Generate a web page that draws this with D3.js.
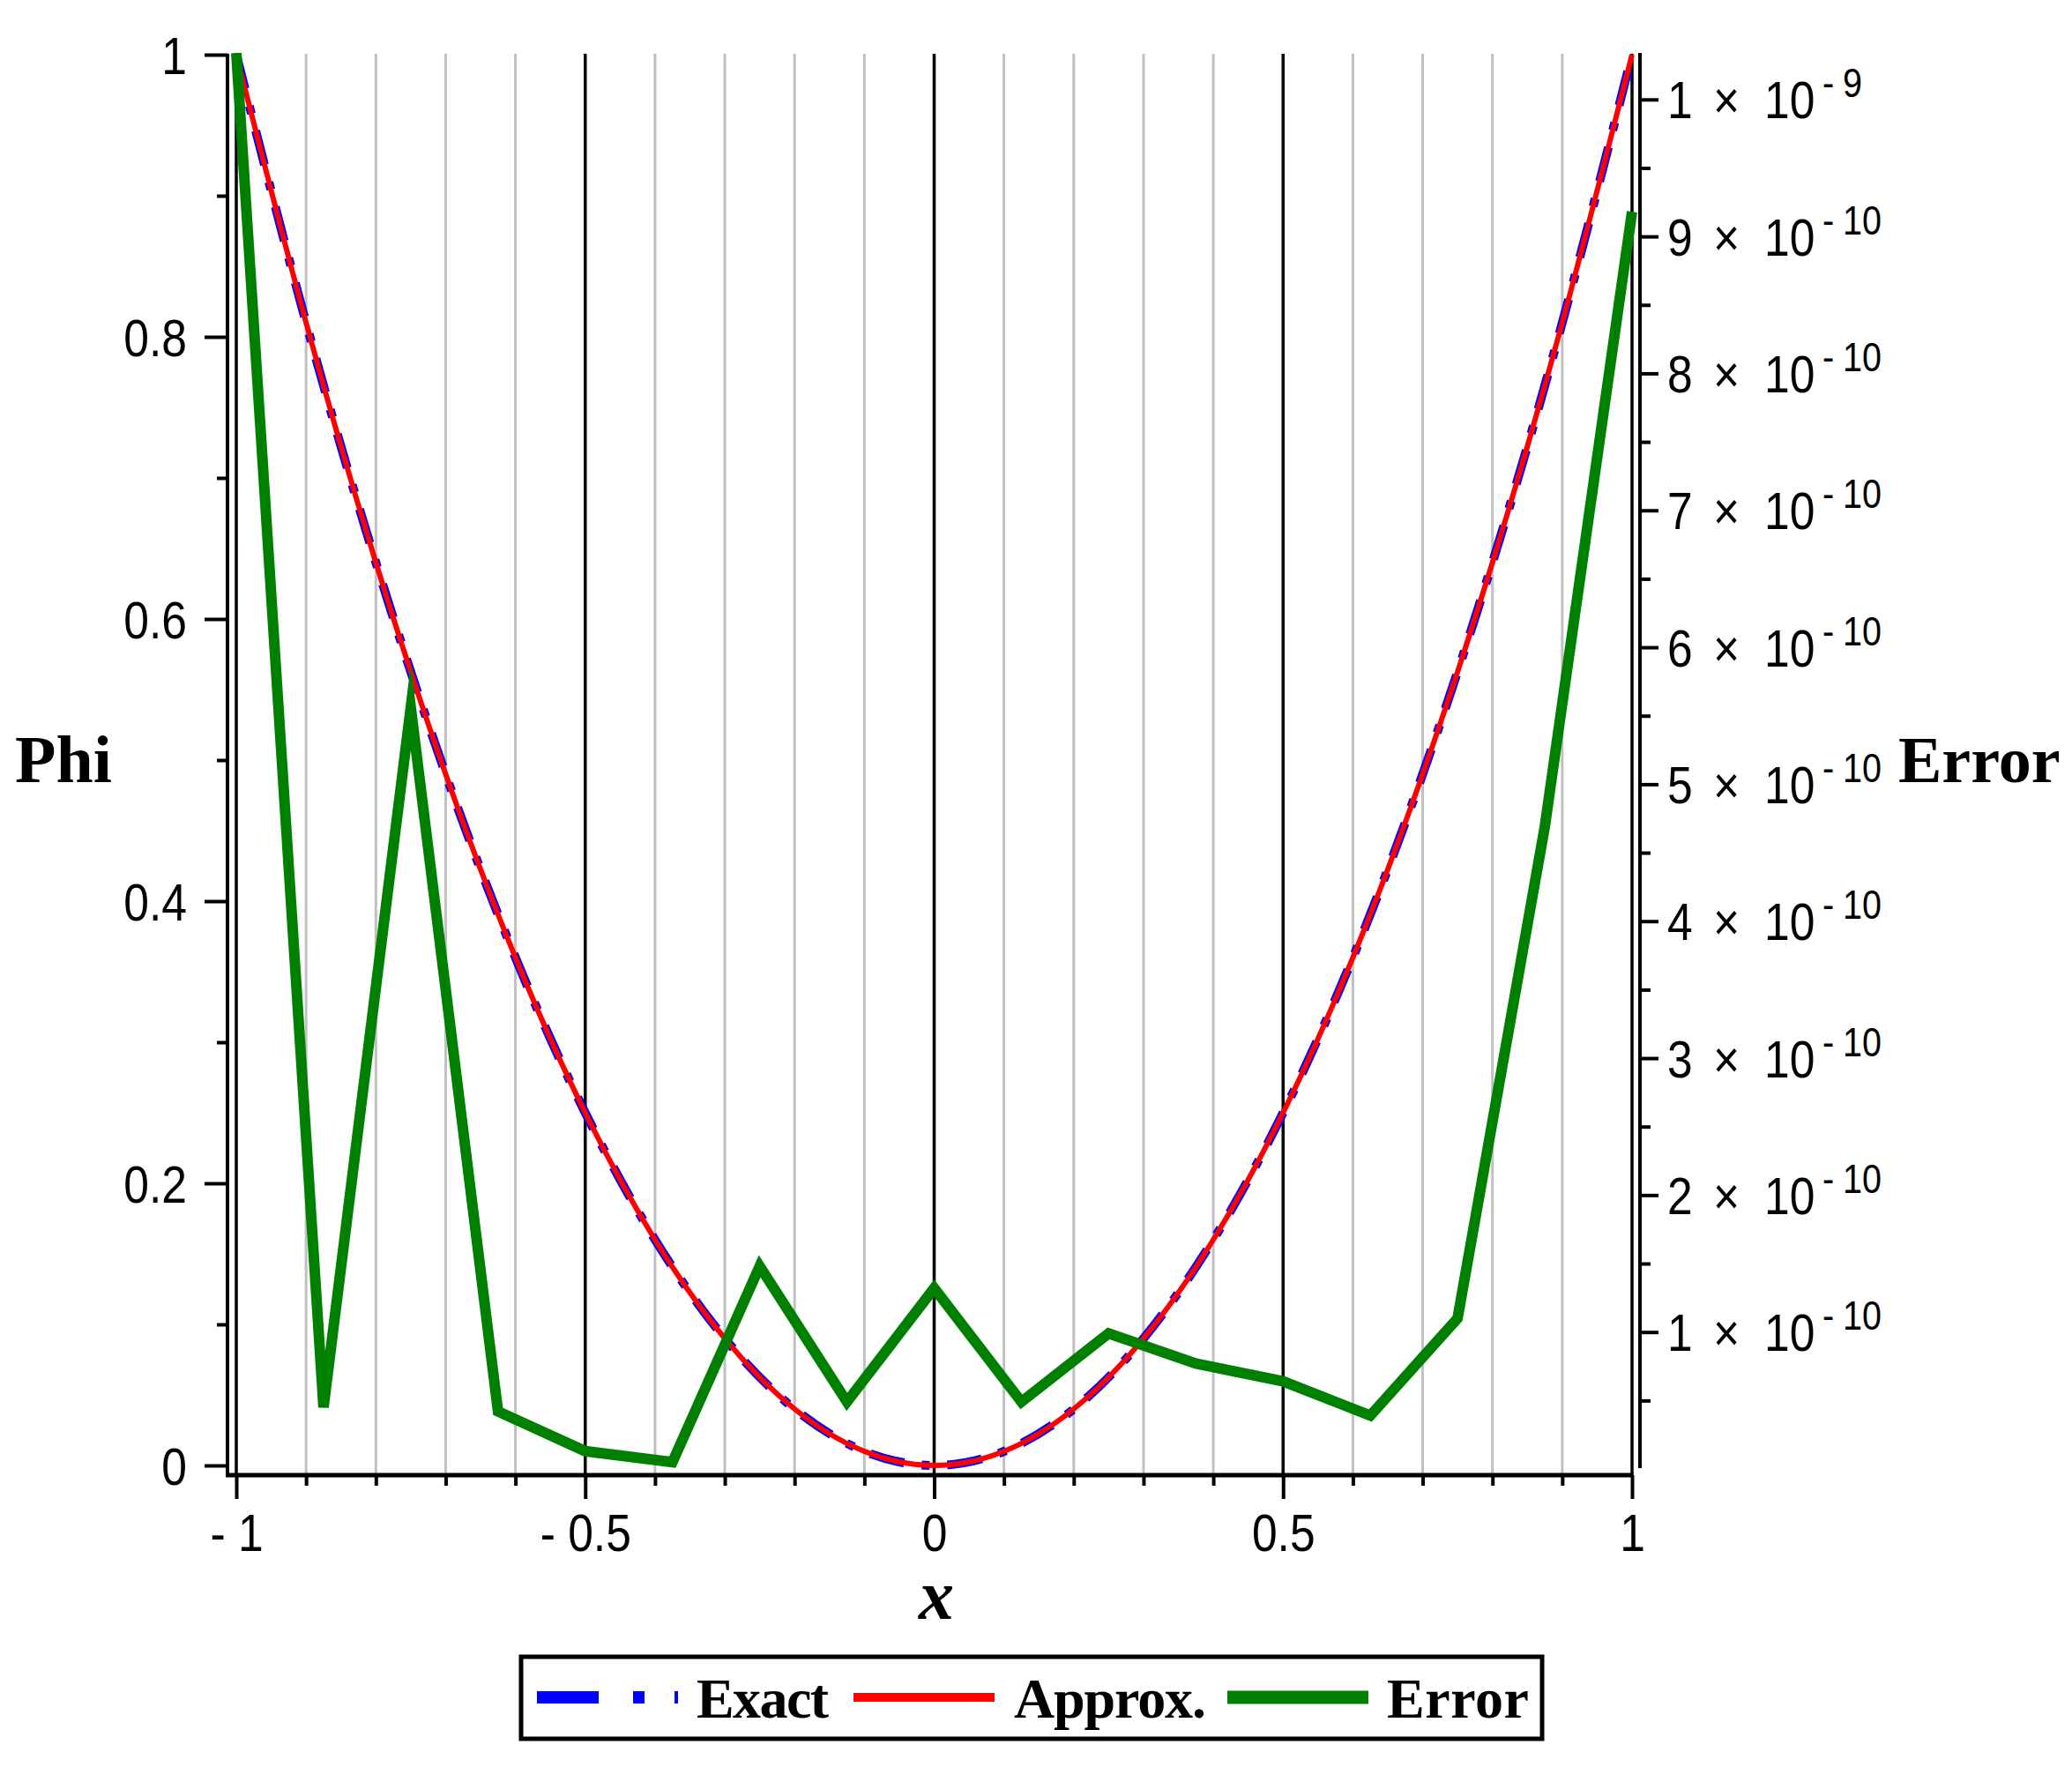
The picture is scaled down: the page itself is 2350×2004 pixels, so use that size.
<!DOCTYPE html>
<html>
<head>
<meta charset="utf-8">
<script src="https://cdn.jsdelivr.net/npm/d3@7"></script>
<style>
  body { margin: 0; background: #fff; }
  svg { display: block; }
  .tick text { font-family: "Liberation Sans Narrow", "Liberation Sans", sans-serif; fill: #000; }
  .ttl { font-family: "Liberation Serif", "Times New Roman", serif; font-weight: bold; fill: #000; }
</style>
</head>
<body>
<svg id="chart" width="2350" height="2004"></svg>
<script>
// ---- values ----
var xPhi = [-1, -0.9, -0.8, -0.7, -0.6, -0.5, -0.4, -0.3, -0.2, -0.1, 0,
            0.1, 0.2, 0.3, 0.4, 0.5, 0.6, 0.7, 0.8, 0.9, 1];
var phiExact = [1, 0.81, 0.64, 0.49, 0.36, 0.25, 0.16, 0.09, 0.04, 0.01, 0,
                0.01, 0.04, 0.09, 0.16, 0.25, 0.36, 0.49, 0.64, 0.81, 1];
var phiApprox = [1, 0.81, 0.64, 0.49, 0.36, 0.25, 0.16, 0.09, 0.04, 0.01, 0,
                 0.01, 0.04, 0.09, 0.16, 0.25, 0.36, 0.49, 0.64, 0.81, 1];

var xErr = [-1, -0.875, -0.75, -0.625, -0.5, -0.375, -0.25, -0.125, 0,
            0.125, 0.25, 0.375, 0.5, 0.625, 0.75, 0.875, 1];
var errVals = [1.034e-9, 4.5e-11, 5.56e-10, 4.2e-11, 1.3e-11, 5e-12, 1.48e-10, 4.9e-11, 1.32e-10,
               4.9e-11, 9.9e-11, 7.7e-11, 6.4e-11, 3.9e-11, 1.10e-10, 4.69e-10, 9.18e-10];

var xTickVals = [-1, -0.5, 0, 0.5, 1];
var xTickLabels = ["- 1", "- 0.5", "0", "0.5", "1"];
var phiTickVals = [0, 0.2, 0.4, 0.6, 0.8, 1];
var phiTickLabels = ["0", "0.2", "0.4", "0.6", "0.8", "1"];
var errTickVals = [1e-10, 2e-10, 3e-10, 4e-10, 5e-10, 6e-10, 7e-10, 8e-10, 9e-10, 1e-9];
var errMantissa = ["1", "2", "3", "4", "5", "6", "7", "8", "9", "1"];
var errExponent = ["10", "10", "10", "10", "10", "10", "10", "10", "10", "9"];
var legendNames = ["Exact", "Approx.", "Error"];

// ---- layout ----
var svg = d3.select("#chart");
var axisX = 258, axisBottom = 1673, axisRightX = 1860;
var squeeze = 0.86; // tick font is narrow in the original

var x = d3.scaleLinear().domain([-1, 1]).range([268, 1851]);
var yPhi = d3.scaleLinear().domain([0, 1]).range([1662, 62]);
var yErr = d3.scaleLinear().domain([0, d3.max(errVals)]).range([1666, 60]);

svg.append("defs").append("clipPath").attr("id", "clip")
  .append("rect").attr("x", axisX).attr("y", 60)
  .attr("width", axisRightX - axisX).attr("height", axisBottom - 60);

// vertical grid, one line each 0.1
var grid = d3.range(-10, 11);
svg.append("g").selectAll("line").data(grid).enter().append("line")
  .attr("x1", function(i) { return x(i / 10); })
  .attr("x2", function(i) { return x(i / 10); })
  .attr("y1", 61).attr("y2", axisBottom)
  .attr("stroke", function(i) { return i % 5 == 0 ? "#000" : "#c0c0c0"; })
  .attr("stroke-width", function(i) { return i % 5 == 0 ? 3.5 : 3; });

// ---- curves ----
var plot = svg.append("g").attr("clip-path", "url(#clip)");

var lineExact = d3.line()
  .x(function(d, i) { return x(xPhi[i]); })
  .y(function(d) { return yPhi(d); })
  .curve(d3.curveNatural);

plot.append("path").datum(phiExact)
  .attr("d", lineExact)
  .attr("fill", "none").attr("stroke", "#0000ff")
  .attr("stroke-width", 10).attr("stroke-dasharray", "40,20,9,20");

plot.append("path").datum(phiApprox)
  .attr("d", lineExact)
  .attr("fill", "none").attr("stroke", "#ff0000").attr("stroke-width", 6);

var lineErr = d3.line()
  .x(function(d, i) { return x(xErr[i]); })
  .y(function(d) { return yErr(d); });

plot.append("path").datum(errVals)
  .attr("d", lineErr)
  .attr("fill", "none").attr("stroke", "#008000")
  .attr("stroke-width", 12).attr("stroke-linejoin", "miter").attr("stroke-miterlimit", 10);

// ---- axes ----
function styleAxis(g) {
  g.select(".domain").remove();
  g.selectAll(".tick line").attr("stroke", "#000").attr("stroke-width", 4);
}
function narrow(sel) {
  sel.each(function() {
    var t = d3.select(this);
    t.attr("x", (+t.attr("x") || 0) / squeeze).attr("transform", "scale(" + squeeze + ",1)");
  });
}

// left (Phi)
svg.append("g").attr("transform", "translate(" + axisX + ",0)")
  .call(d3.axisLeft(yPhi).tickValues([0.1, 0.3, 0.5, 0.7, 0.9]).tickSize(12).tickFormat(""))
  .call(styleAxis);
svg.append("g").attr("transform", "translate(" + axisX + ",0)")
  .call(d3.axisLeft(yPhi).tickValues(phiTickVals).tickSize(26).tickPadding(20)
    .tickFormat(function(d, i) { return phiTickLabels[i]; }))
  .call(styleAxis)
  .selectAll("text").attr("font-size", 60).attr("dy", "0.36em").call(narrow);

// bottom (x)
svg.append("g").attr("transform", "translate(0," + axisBottom + ")")
  .call(d3.axisBottom(x).tickValues(grid.filter(function(i) { return i % 5 != 0; })
    .map(function(i) { return i / 10; })).tickSize(12).tickFormat(""))
  .call(styleAxis);
svg.append("g").attr("transform", "translate(0," + axisBottom + ")")
  .call(d3.axisBottom(x).tickValues(xTickVals).tickSize(27).tickPadding(16)
    .tickFormat(function(d, i) { return xTickLabels[i]; }))
  .call(styleAxis)
  .selectAll("text").attr("font-size", 60).call(narrow);

// right (Error)
svg.append("g").attr("transform", "translate(" + axisRightX + ",0)")
  .call(d3.axisRight(yErr).tickValues(errTickVals.map(function(v) { return v - 0.5e-10; }))
    .tickSize(12).tickFormat(""))
  .call(styleAxis);
var rAxis = svg.append("g").attr("transform", "translate(" + axisRightX + ",0)")
  .call(d3.axisRight(yErr).tickValues(errTickVals).tickSize(21).tickFormat(""))
  .call(styleAxis);
rAxis.selectAll(".tick").each(function(d, i) {
  var t = d3.select(this);
  t.select("text").remove();
  var f = "\"Liberation Sans Narrow\", \"Liberation Sans\", sans-serif";
  var parts = [
    {x: 31, y: 21, s: 60, txt: errMantissa[i]},
    {x: 83, y: 21, s: 60, txt: "\u00d7"},
    {x: 141, y: 21, s: 60, txt: "10"},
    {x: 207, y: -3, s: 46, txt: "-"},
    {x: 230, y: -3, s: 46, txt: errExponent[i]}
  ];
  parts.forEach(function(p) {
    t.append("text").attr("x", p.x / squeeze).attr("y", p.y).attr("font-size", p.s)
      .attr("transform", "scale(" + squeeze + ",1)")
      .attr("font-family", f).text(p.txt);
  });
});

// axis lines
svg.append("line").attr("x1", axisX).attr("x2", axisX).attr("y1", 61).attr("y2", axisBottom + 2)
  .attr("stroke", "#000").attr("stroke-width", 4);
svg.append("line").attr("x1", axisX - 2).attr("x2", x(1)).attr("y1", axisBottom).attr("y2", axisBottom)
  .attr("stroke", "#000").attr("stroke-width", 5);
svg.append("line").attr("x1", axisRightX).attr("x2", axisRightX).attr("y1", 60).attr("y2", 1665)
  .attr("stroke", "#000").attr("stroke-width", 4);

// titles
svg.append("text").attr("class", "ttl").attr("x", 17).attr("y", 887)
  .attr("font-size", 76).text("Phi");
svg.append("text").attr("class", "ttl").attr("x", 2153).attr("y", 887)
  .attr("font-size", 74).text("Error");
svg.append("text").attr("class", "ttl").attr("x", 1062).attr("y", 1836)
  .attr("font-size", 80).attr("font-style", "italic").attr("text-anchor", "middle").text("x");

// ---- legend ----
var leg = svg.append("g");
leg.append("rect").attr("x", 591).attr("y", 1879).attr("width", 1158).attr("height", 93)
  .attr("fill", "#fff").attr("stroke", "#000").attr("stroke-width", 5);

var legItems = [
  {x0: 609, x1: 769, tx: 790, tw: 150, color: "#0000ff", w: 14, dash: "70,39,13,34"},
  {x0: 968, x1: 1128, tx: 1150, tw: 218, color: "#ff0000", w: 10, dash: null},
  {x0: 1392, x1: 1552, tx: 1573, tw: 161, color: "#008000", w: 15, dash: null}
];
legItems.forEach(function(it, i) {
  leg.append("line").attr("x1", it.x0).attr("x2", it.x1).attr("y1", 1925).attr("y2", 1925)
    .attr("stroke", it.color).attr("stroke-width", it.w)
    .attr("stroke-dasharray", it.dash);
  leg.append("text").attr("class", "ttl").attr("x", it.tx).attr("y", 1948)
    .attr("font-size", 64).attr("textLength", it.tw).attr("lengthAdjust", "spacing")
    .text(legendNames[i]);
});
</script>
</body>
</html>
